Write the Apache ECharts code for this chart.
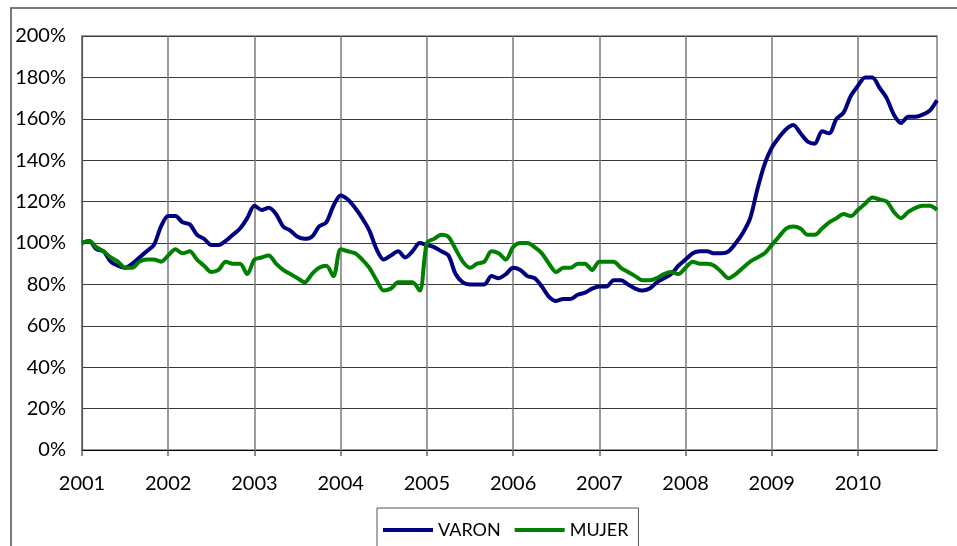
<!DOCTYPE html>
<html>
<head>
<meta charset="utf-8">
<script src="https://cdn.jsdelivr.net/npm/echarts@6/dist/echarts.min.js"></script>
<style>
  html, body { margin: 0; padding: 0; background: #fff; }
  #main { width: 957px; height: 546px; }
</style>
</head>
<body>
<div id="main"></div>
<script>
// year labels on the x axis (12 monthly points per year)
const years = ["2001", "2002", "2003", "2004", "2005", "2006", "2007", "2008", "2009", "2010"]
const yTicks = [0, 20, 40, 60, 80, 100, 120, 140, 160, 180, 200]

// monthly index values, %
const varon = [
  100, 101, 97, 96, 91, 89, 88, 90, 93, 96, 99, 108,
  113, 113, 110, 109, 104, 102, 99, 99, 101, 104, 107, 112,
  118, 116, 117, 114, 108, 106, 103, 102, 103, 108, 110, 118,
  123, 121, 117, 112, 106, 97, 92, 94, 96, 93, 96, 100,
  99, 98, 96, 94, 85, 81, 80, 80, 80, 84, 83, 85,
  88, 87, 84, 83, 79, 74, 72, 73, 73, 75, 76, 78,
  79, 79, 82, 82, 80, 78, 77, 78, 81, 83, 85, 89,
  92, 95, 96, 96, 95, 95, 96, 100, 105, 112, 126, 138,
  146, 151, 155, 157, 153, 149, 148, 154, 153, 160, 163, 171,
  176, 180, 180, 175, 170, 162, 158, 161, 161, 162, 164, 169
]
const mujer = [
  100, 101, 98, 96, 93, 91, 88, 88, 91, 92, 92, 91,
  94, 97, 95, 96, 92, 89, 86, 87, 91, 90, 90, 85,
  92, 93, 94, 90, 87, 85, 83, 81, 85, 88, 89, 84,
  97, 96, 95, 92, 88, 82, 77, 78, 81, 81, 81, 77,
  100, 102, 104, 103, 97, 91, 88, 90, 91, 96, 95, 92,
  98, 100, 100, 98, 95, 90, 86, 88, 88, 90, 90, 87,
  91, 91, 91, 88, 86, 84, 82, 82, 83, 85, 86, 85,
  88, 91, 90, 90, 89, 86, 83, 85, 88, 91, 93, 95,
  99, 103, 107, 108, 107, 104, 104, 107, 110, 112, 114, 113,
  116, 119, 122, 121, 120, 115, 112, 115, 117, 118, 118, 116
]

const months = varon.map((v, i) => i)
const atYear = (i) => i % 12 === 0

var chartDom = document.getElementById("main")
var myChart = echarts.init(chartDom)
var option = {
  animation: false,
  backgroundColor: "#fff",
  textStyle: { fontFamily: "Lato" },
  graphic: [
    {
      type: "rect",
      z: -10,
      shape: { x: 11, y: 8, width: 1000, height: 600 },
      style: { fill: "none", stroke: "#4d4d4d", lineWidth: 1.5 }
    }
  ],
  legend: {
    left: 377,
    top: 508,
    padding: [13, 10, 13, 6],
    itemGap: 14,
    itemWidth: 50,
    itemHeight: 4,
    icon: "rect",
    borderColor: "#555",
    borderWidth: 1,
    textStyle: { fontSize: 18, color: "#000", fontFamily: "Lato" },
    data: ["VARON", "MUJER"]
  },
  grid: {
    left: 82,
    top: 36,
    right: 20,
    bottom: 96,
    show: true,
    borderColor: "#808080",
    borderWidth: 1.5
  },
  xAxis: {
    type: "category",
    boundaryGap: false,
    data: months,
    axisLine: { lineStyle: { color: "#000", width: 1.2 } },
    axisTick: { interval: atYear, length: 6, lineStyle: { color: "#666", width: 1.5 } },
    axisLabel: {
      interval: atYear,
      margin: 24,
      fontSize: 20,
      color: "#000",
      formatter: (val, idx) => years[Math.floor(idx / 12)]
    },
    splitLine: { show: true, interval: atYear, lineStyle: { color: "#7a7a7a", width: 1.5 } }
  },
  yAxis: {
    type: "value",
    min: yTicks[0],
    max: yTicks[yTicks.length - 1],
    interval: 20,
    axisLine: { show: true, lineStyle: { color: "#555", width: 1.2 } },
    axisTick: { show: false },
    axisLabel: { margin: 16, fontSize: 20, color: "#000", formatter: "{value}%" },
    splitLine: { lineStyle: { color: "#3a3a3a", width: 1 } }
  },
  series: [
    {
      name: "VARON",
      type: "line",
      data: varon,
      smooth: 0.3,
      showSymbol: false,
      color: "#000080",
      lineStyle: { width: 4, color: "#000080" }
    },
    {
      name: "MUJER",
      type: "line",
      data: mujer,
      smooth: 0.3,
      showSymbol: false,
      color: "#008000",
      lineStyle: { width: 4, color: "#008000" }
    }
  ]
}

option && myChart.setOption(option)
</script>
</body>
</html>
